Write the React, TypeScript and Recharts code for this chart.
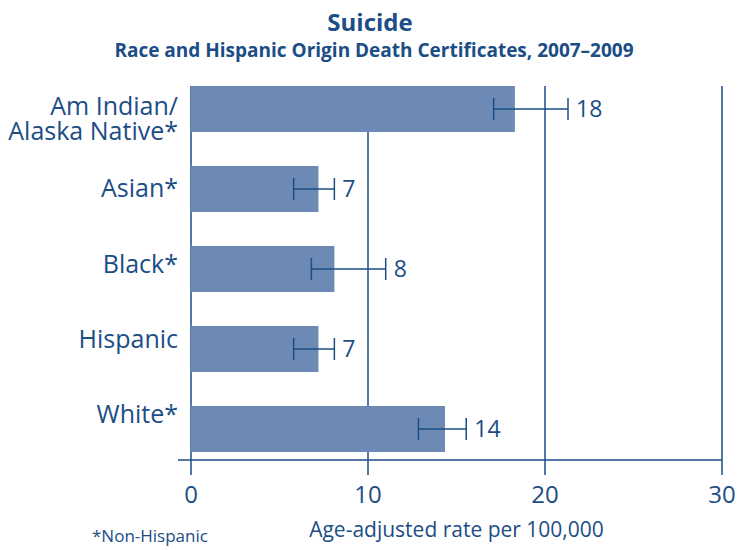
import React from "react";
import {
    BarChart,
    Bar,
    XAxis,
    YAxis,
    CartesianGrid,
    ErrorBar,
    LabelList,
} from "recharts";

const BLUE = "#1b4d86";
const BAR = "#6c8ab4";
const FONT = "'Open Sans', sans-serif";

const groups = ["Am Indian/\nAlaska Native*", "Asian*", "Black*", "Hispanic", "White*"];
const rates = [18.3, 7.2, 8.1, 7.2, 14.35];
const lowerCI = [17.1, 5.8, 6.8, 5.8, 12.85];
const upperCI = [21.3, 8.1, 11.0, 8.1, 15.55];
const shownRates = [18, 7, 8, 7, 14];
const xTicks = [0, 10, 20, 30];

const chartData = groups.map((name, i) => ({
    name,
    rate: rates[i],
    err: [rates[i] - lowerCI[i], upperCI[i] - rates[i]],
    hi: upperCI[i],
    shown: shownRates[i],
}));

// tick marks sit on the band boundaries, not the band centres
// eslint-disable-next-line @typescript-eslint/no-explicit-any
function BandTick(props: any) {
    const { x, y, payload, index } = props;
    const half = payload.offset || 40;
    const tickY = index === 0 ? y - 23 : y - half;
    return <line x1={x} x2={x + 13} y1={tickY} y2={tickY} stroke={BLUE} strokeWidth={1.5} />;
}

// eslint-disable-next-line @typescript-eslint/no-explicit-any
function GroupTick(props: any) {
    const { x, y, payload } = props;
    const lines = String(payload.value).split("\n");
    if (lines.length > 1) {
        return (
            <g>
                {lines.map((l, i) => (
                    <text key={i} x={x} y={y + 2 + i * 25} textAnchor="end" fill={BLUE} fontSize={25} fontFamily={FONT}>
                        {l}
                    </text>
                ))}
            </g>
        );
    }
    return (
        <text x={x} y={y + 9} textAnchor="end" fill={BLUE} fontSize={25} fontFamily={FONT}>
            {lines[0]}
        </text>
    );
}

// eslint-disable-next-line @typescript-eslint/no-explicit-any
function RateTick(props: any) {
    const { x, y, payload, index } = props;
    return (
        <g>
            {index === 0 && (
                <line x1={x - 13} x2={x} y1={y - 26} y2={y - 26} stroke={BLUE} strokeWidth={1.5} />
            )}
            <text x={x} y={y} dy="0.71em" textAnchor="middle" fill={BLUE} fontSize={24} fontFamily={FONT}>
                {payload.value}
            </text>
        </g>
    );
}

// eslint-disable-next-line @typescript-eslint/no-explicit-any
function RateLabel(props: any) {
    const { x, y, width, height, index } = props;
    const d = chartData[index];
    const perUnit = width / d.rate;
    return (
        <text x={x + d.hi * perUnit + 8} y={y + height / 2 + 8} fill={BLUE} fontSize={23} fontFamily={FONT}>
            {d.shown}
        </text>
    );
}

export default function App() {
    return (
        <div style={{ position: "absolute", left: 0, top: 0, width: 740, height: 550, background: "#fff", fontFamily: FONT }}>
            <div style={{ position: "absolute", top: 5, width: 740, textAlign: "center", color: BLUE, fontSize: 24, fontWeight: 700 }}>
                Suicide
            </div>
            <div style={{ position: "absolute", top: 37, left: 4, width: 740, textAlign: "center", color: BLUE, fontSize: 19, fontWeight: 700 }}>
                Race and Hispanic Origin Death Certificates, 2007–2009
            </div>
            <div style={{ position: "absolute", top: 524, left: 92, color: BLUE, fontSize: 17 }}>*Non-Hispanic</div>
            <BarChart
                width={740}
                height={550}
                data={chartData}
                layout="vertical"
                margin={{ top: 86, right: 18, left: 0, bottom: 30 }}
                barSize={46}
            >
                <CartesianGrid horizontal={false} stroke={BLUE} strokeWidth={1.5} />
                <XAxis
                    type="number"
                    domain={[0, 30]}
                    ticks={xTicks}
                    height={60}
                    tickSize={15}
                    tickMargin={11}
                    tick={<RateTick />}
                    axisLine={{ stroke: BLUE, strokeWidth: 1.5 }}
                    tickLine={{ stroke: BLUE, strokeWidth: 1.5 }}
                    label={{
                        value: "Age-adjusted rate per 100,000",
                        position: "bottom",
                        offset: 2,
                        fill: BLUE,
                        fontSize: 21,
                        fontFamily: FONT,
                    }}
                />
                <YAxis
                    yAxisId="band"
                    type="category"
                    dataKey="name"
                    width={0}
                    tickSize={13}
                    tickMargin={0}
                    tickLine={false}
                    padding={{ top: -17, bottom: -9 }}
                    tick={<BandTick />}
                    axisLine={{ stroke: BLUE, strokeWidth: 1.5 }}
                />
                <YAxis
                    yAxisId="labels"
                    type="category"
                    dataKey="name"
                    width={191}
                    tickSize={13}
                    tickMargin={0}
                    tickLine={false}
                    axisLine={false}
                    padding={{ top: -11, bottom: 8 }}
                    tick={<GroupTick />}
                />
                <Bar yAxisId="band" dataKey="rate" fill={BAR} isAnimationActive={false}>
                    <ErrorBar dataKey="err" direction="x" width={11} stroke={BLUE} strokeWidth={1.5} />
                    <LabelList dataKey="rate" content={<RateLabel />} />
                </Bar>
            </BarChart>
        </div>
    );
}
